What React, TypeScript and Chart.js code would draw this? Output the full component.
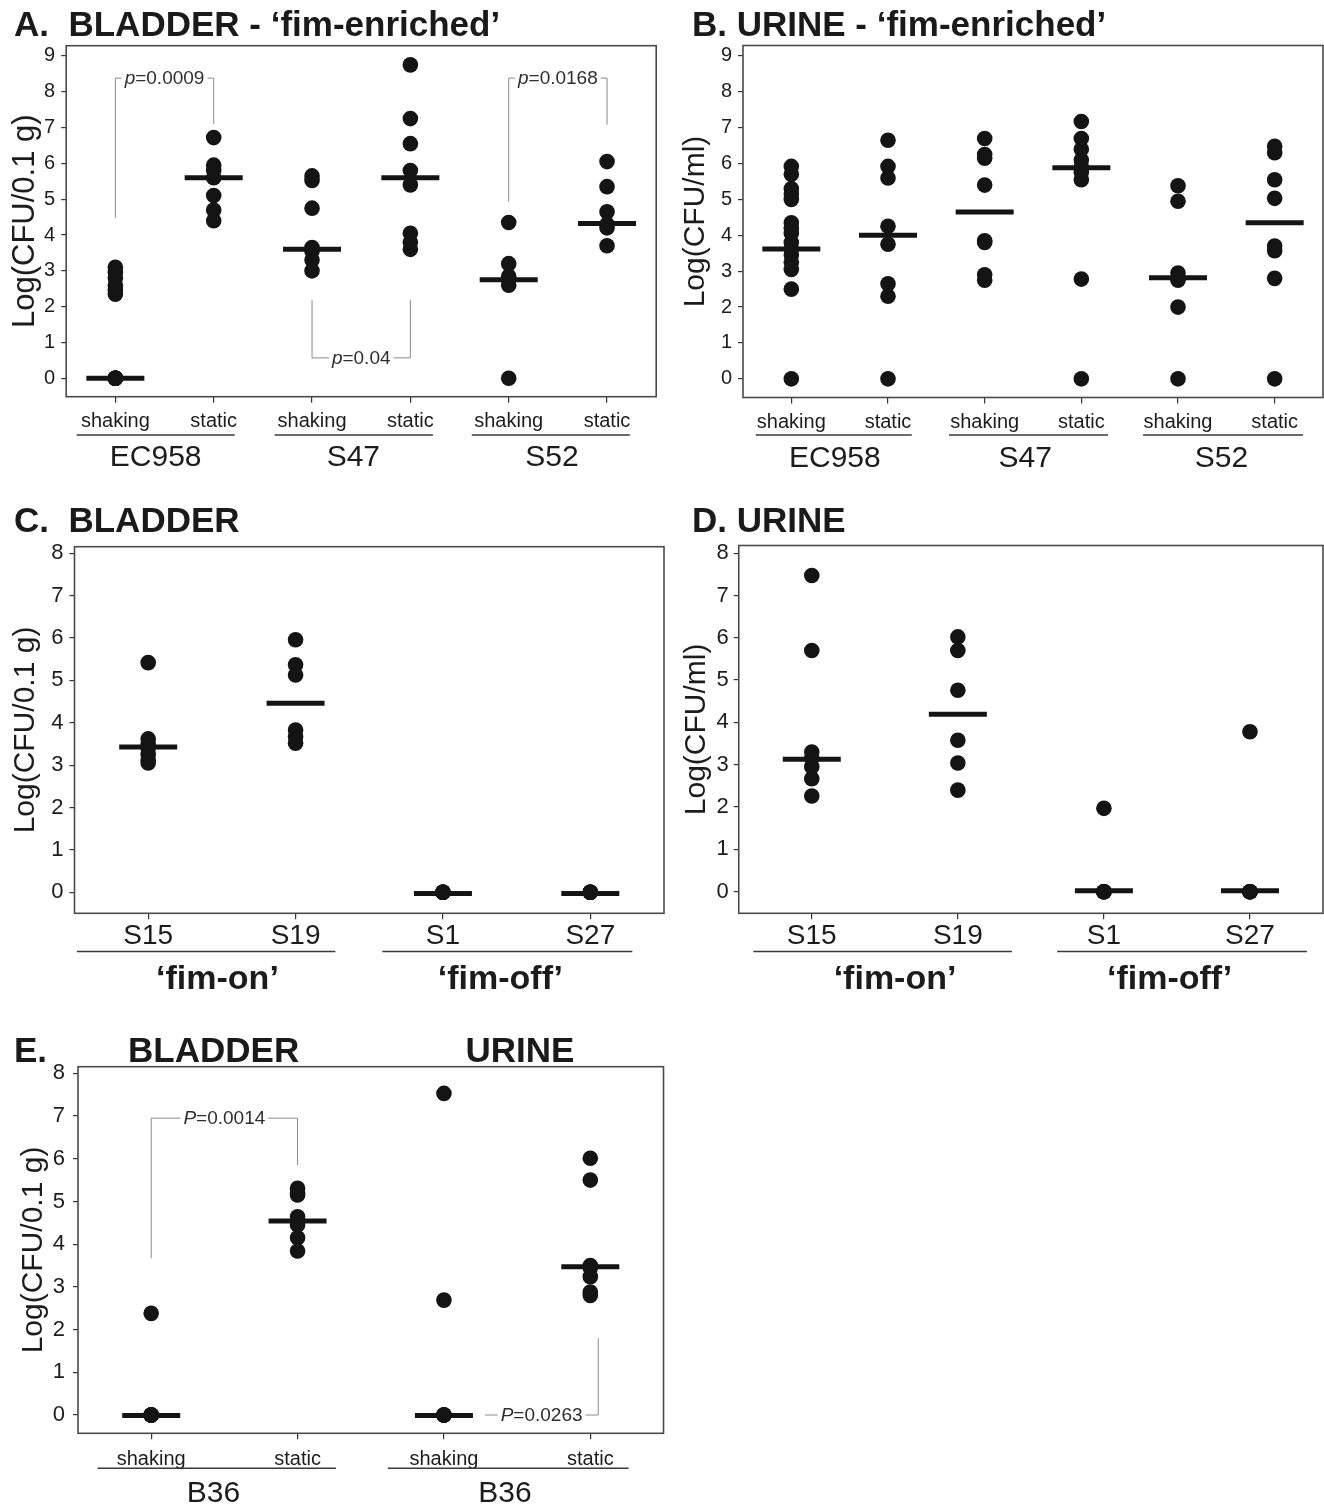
import React, { useEffect, useRef } from "react";
import { Chart, registerables } from "chart.js";

Chart.register(...registerables);

const FONT = "'Liberation Sans', Arial, Helvetica, sans-serif";
const INK = "#141414";
const TEXT = "#1c1c1c";
Chart.defaults.font.family = FONT;
Chart.defaults.color = TEXT;

// ---------------- Panel A : BLADDER - fim-enriched ----------------
const A_CATEGORIES = ["shaking", "static", "shaking", "static", "shaking", "static"];
const A_GROUPS = ["EC958", "S47", "S52"];
const A_Y_TICKS = [0, 1, 2, 3, 4, 5, 6, 7, 8, 9];
const A_EC958_SHAKING = [0, 0, 0, 0, 0, 0, 0, 3.1, 2.95, 2.8, 2.6, 2.45, 2.35];
const A_EC958_STATIC = [6.72, 5.95, 5.8, 5.6, 5.1, 4.7, 4.4];
const A_S47_SHAKING = [5.65, 5.52, 4.75, 3.65, 3.55, 3.3, 3.0];
const A_S47_STATIC = [8.75, 7.25, 6.55, 5.8, 5.4, 4.05, 3.8, 3.6];
const A_S52_SHAKING = [4.35, 3.2, 2.85, 2.75, 2.6, 0];
const A_S52_STATIC = [6.05, 5.35, 4.65, 4.3, 4.2, 3.7];
const A_MEDIANS = [0, 5.6, 3.6, 5.6, 2.75, 4.32];
const A_P_VALUES = ["0.0009", "0.04", "0.0168"];
const A_P_PAIRS = [[0, 1], [2, 3], [4, 5]];
const A_P_LEVELS = [8.38, 0.57, 8.38];
const A_P_ENDS = [[4.48, 7.1], [2.19, 2.19], [4.93, 7.08]];

// ---------------- Panel B : URINE - fim-enriched ----------------
const B_CATEGORIES = ["shaking", "static", "shaking", "static", "shaking", "static"];
const B_GROUPS = ["EC958", "S47", "S52"];
const B_Y_TICKS = [0, 1, 2, 3, 4, 5, 6, 7, 8, 9];
const B_EC958_SHAKING = [5.92, 5.7, 5.3, 5.15, 5.0, 4.35, 4.2, 4.05, 3.8, 3.62, 3.45, 3.25, 3.05, 2.5, 0];
const B_EC958_STATIC = [6.65, 5.92, 5.6, 4.25, 3.75, 2.65, 2.3, 0];
const B_S47_SHAKING = [6.7, 6.25, 6.15, 5.4, 3.85, 3.8, 2.9, 2.75];
const B_S47_STATIC = [7.17, 6.7, 6.4, 6.1, 5.9, 5.75, 5.55, 2.78, 0];
const B_S52_SHAKING = [5.38, 4.95, 2.95, 2.8, 2.75, 2.0, 0];
const B_S52_STATIC = [6.48, 6.3, 5.55, 5.03, 3.7, 3.57, 2.8, 0];
const B_MEDIANS = [3.62, 4.0, 4.65, 5.88, 2.82, 4.35];

// ---------------- Panel C : BLADDER ----------------
const C_CATEGORIES = ["S15", "S19", "S1", "S27"];
const C_GROUPS = ["\u2018fim-on\u2019", "\u2018fim-off\u2019"];
const C_Y_TICKS = [0, 1, 2, 3, 4, 5, 6, 7, 8];
const C_S15 = [5.42, 3.62, 3.5, 3.4, 3.25, 3.12, 3.05];
const C_S19 = [5.96, 5.37, 5.13, 3.83, 3.67, 3.52];
const C_S1 = [0, 0, 0, 0, 0];
const C_S27 = [0, 0, 0, 0, 0];
const C_MEDIANS = [3.43, 4.46, -0.03, -0.03];

// ---------------- Panel D : URINE ----------------
const D_CATEGORIES = ["S15", "S19", "S1", "S27"];
const D_GROUPS = ["\u2018fim-on\u2019", "\u2018fim-off\u2019"];
const D_Y_TICKS = [0, 1, 2, 3, 4, 5, 6, 7, 8];
const D_S15 = [7.47, 5.7, 3.3, 3.15, 2.95, 2.67, 2.26];
const D_S19 = [6.02, 5.7, 4.76, 3.58, 3.04, 2.4];
const D_S1 = [1.97, 0, 0, 0, 0];
const D_S27 = [3.78, 0, 0, 0, 0];
const D_MEDIANS = [3.13, 4.19, 0.02, 0.02];

// ---------------- Panel E : B36 bladder / urine ----------------
const E_CATEGORIES = ["shaking", "static", "shaking", "static"];
const E_GROUPS = ["B36", "B36"];
const E_Y_TICKS = [0, 1, 2, 3, 4, 5, 6, 7, 8];
const E_BLADDER_SHAKING = [2.38, 0, 0, 0, 0, 0];
const E_BLADDER_STATIC = [5.31, 5.2, 5.15, 4.64, 4.45, 4.15, 3.84];
const E_URINE_SHAKING = [7.53, 2.69, 0, 0, 0, 0];
const E_URINE_STATIC = [6.01, 5.5, 3.5, 3.45, 3.24, 2.88, 2.8];
const E_MEDIANS = [-0.01, 4.54, -0.01, 3.47];
const E_P_VALUES = ["0.0014", "0.0263"];
const E_P_PAIRS = [[0, 1], [2.28, 3.054]];
const E_P_LEVELS = [6.95, 0];
const E_P_ENDS = [[3.67, 5.85], [null, 1.8]];

type Bracket = { from: number; to: number; level: number; fromEnd: number | null; toEnd: number | null; prefix: string; value: string };

function brackets(prefix: string, values: string[], pairs: number[][], levels: number[], ends: (number | null)[][]): Bracket[] {
  return values.map((v, i) => ({
    from: pairs[i][0], to: pairs[i][1], level: levels[i],
    fromEnd: ends[i][0], toEnd: ends[i][1], prefix, value: v,
  }));
}

type PanelCfg = {
  left: number; top: number; width: number; height: number;
  box: { left: number; top: number; right: number; bottom: number };
  yMin: number; yMax: number; yTicks: number[];
  categories: string[]; series: number[][]; medians: number[];
  yTitle: string; yTitleSize: number; yTitlePad: number;
  yTickSize: number; yTickPad: number;
  xTickSize: number; xTickPad: number;
  groups: string[]; groupSpans: number[][]; groupAt: number[];
  groupFont: string; underlineOffset: number; groupBaseline: number;
  brackets: Bracket[];
  titles: { text: string; x: number; y: number; align: CanvasTextAlign }[];
};

const TITLE_FONT = `bold 35px ${FONT}`;

const PANELS: PanelCfg[] = [
  {
    left: 0, top: 0, width: 662, height: 480,
    box: { left: 66.2, top: 45.7, right: 656.2, bottom: 396.7 },
    yMin: -0.514, yMax: 9.285, yTicks: A_Y_TICKS,
    categories: A_CATEGORIES,
    series: [A_EC958_SHAKING, A_EC958_STATIC, A_S47_SHAKING, A_S47_STATIC, A_S52_SHAKING, A_S52_STATIC],
    medians: A_MEDIANS,
    yTitle: "Log(CFU/0.1 g)", yTitleSize: 31, yTitlePad: 7,
    yTickSize: 20, yTickPad: 6, xTickSize: 20, xTickPad: 7,
    groups: A_GROUPS, groupSpans: [[-0.394, 1.214], [1.62, 3.23], [3.624, 5.232]], groupAt: [0.41, 2.42, 4.44],
    groupFont: `30px ${FONT}`, underlineOffset: 38.3, groupBaseline: 69.5,
    brackets: brackets("p", A_P_VALUES, A_P_PAIRS, A_P_LEVELS, A_P_ENDS),
    titles: [{ text: "A.  BLADDER - \u2018fim-enriched\u2019", x: 14, y: 36, align: "left" }],
  },
  {
    left: 662, top: 0, width: 662, height: 480,
    box: { left: 81, top: 45.5, right: 661, bottom: 397.5 },
    yMin: -0.52, yMax: 9.29, yTicks: B_Y_TICKS,
    categories: B_CATEGORIES,
    series: [B_EC958_SHAKING, B_EC958_STATIC, B_S47_SHAKING, B_S47_STATIC, B_S52_SHAKING, B_S52_STATIC],
    medians: B_MEDIANS,
    yTitle: "Log(CFU/ml)", yTitleSize: 30, yTitlePad: 15.5,
    yTickSize: 20, yTickPad: 6, xTickSize: 20, xTickPad: 7,
    groups: B_GROUPS, groupSpans: [[-0.368, 1.246], [1.631, 3.276], [3.638, 5.293]], groupAt: [0.45, 2.42, 4.45],
    groupFont: `30px ${FONT}`, underlineOffset: 37.5, groupBaseline: 69,
    brackets: [],
    titles: [{ text: "B. URINE - \u2018fim-enriched\u2019", x: 30, y: 36, align: "left" }],
  },
  {
    left: 0, top: 495, width: 670, height: 510,
    box: { left: 74.5, top: 51.7, right: 664, bottom: 418.3 },
    yMin: -0.496, yMax: 8.156, yTicks: C_Y_TICKS,
    categories: C_CATEGORIES,
    series: [C_S15, C_S19, C_S1, C_S27],
    medians: C_MEDIANS,
    yTitle: "Log(CFU/0.1 g)", yTitleSize: 30, yTitlePad: 7.6,
    yTickSize: 22, yTickPad: 6, xTickSize: 28, xTickPad: 0,
    groups: C_GROUPS, groupSpans: [[-0.484, 1.27], [1.589, 3.285]], groupAt: [0.47, 2.39],
    groupFont: `bold 34px ${FONT}`, underlineOffset: 38.3, groupBaseline: 76,
    brackets: [],
    titles: [{ text: "C.  BLADDER", x: 14, y: 37.3, align: "left" }],
  },
  {
    left: 670, top: 495, width: 654, height: 510,
    box: { left: 68.75, top: 50.5, right: 653, bottom: 418.3 },
    yMin: -0.51, yMax: 8.18, yTicks: D_Y_TICKS,
    categories: D_CATEGORIES,
    series: [D_S15, D_S19, D_S1, D_S27],
    medians: D_MEDIANS,
    yTitle: "Log(CFU/ml)", yTitleSize: 30, yTitlePad: 9,
    yTickSize: 22, yTickPad: 5, xTickSize: 28, xTickPad: 0,
    groups: D_GROUPS, groupSpans: [[-0.4, 1.37], [1.68, 3.39]], groupAt: [0.57, 2.45],
    groupFont: `bold 34px ${FONT}`, underlineOffset: 38.3, groupBaseline: 76,
    brackets: [],
    titles: [{ text: "D. URINE", x: 22, y: 37.3, align: "left" }],
  },
  {
    left: 0, top: 1025, width: 680, height: 480,
    box: { left: 78, top: 41.7, right: 663.5, bottom: 408.3 },
    yMin: -0.428, yMax: 8.155, yTicks: E_Y_TICKS,
    categories: E_CATEGORIES,
    series: [E_BLADDER_SHAKING, E_BLADDER_STATIC, E_URINE_SHAKING, E_URINE_STATIC],
    medians: E_MEDIANS,
    yTitle: "Log(CFU/0.1 g)", yTitleSize: 30, yTitlePad: 15.6,
    yTickSize: 22, yTickPad: 8, xTickSize: 20, xTickPad: 8,
    groups: E_GROUPS, groupSpans: [[-0.366, 1.262], [1.617, 3.262]], groupAt: [0.426, 2.417],
    groupFont: `30px ${FONT}`, underlineOffset: 35, groupBaseline: 68.4,
    brackets: brackets("P", E_P_VALUES, E_P_PAIRS, E_P_LEVELS, E_P_ENDS),
    titles: [
      { text: "E.", x: 14, y: 36.7, align: "left" },
      { text: "BLADDER", x: 213.6, y: 36.7, align: "center" },
      { text: "URINE", x: 520, y: 36.7, align: "center" },
    ],
  },
];

function makeDecor(cfg: PanelCfg) {
  return {
    id: "panelDecor",
    afterDatasetsDraw(chart: any) {
      const { ctx, chartArea: ca, scales } = chart;
      const xs = scales.x;
      const ys = scales.y;
      ctx.save();
      const fs = 19;
      for (const b of cfg.brackets) {
        const x1 = xs.getPixelForValue(b.from);
        const x2 = xs.getPixelForValue(b.to);
        const yl = ys.getPixelForValue(b.level);
        ctx.font = `italic ${fs}px ${FONT}`;
        const w1 = ctx.measureText(b.prefix).width;
        ctx.font = `${fs}px ${FONT}`;
        const w2 = ctx.measureText("=" + b.value).width;
        const cx = (x1 + x2) / 2;
        const tx0 = cx - (w1 + w2) / 2;
        const tx1 = cx + (w1 + w2) / 2;
        ctx.strokeStyle = "#8a8a8a";
        ctx.lineWidth = 1;
        ctx.beginPath();
        if (b.fromEnd !== null) {
          ctx.moveTo(x1, ys.getPixelForValue(b.fromEnd));
          ctx.lineTo(x1, yl);
        } else {
          ctx.moveTo(x1, yl);
        }
        ctx.lineTo(tx0 - 3, yl);
        ctx.moveTo(tx1 + 3, yl);
        ctx.lineTo(x2, yl);
        if (b.toEnd !== null) ctx.lineTo(x2, ys.getPixelForValue(b.toEnd));
        ctx.stroke();
        ctx.fillStyle = "#2e2e2e";
        ctx.textAlign = "left";
        ctx.textBaseline = "middle";
        ctx.font = `italic ${fs}px ${FONT}`;
        ctx.fillText(b.prefix, tx0, yl + 1);
        ctx.font = `${fs}px ${FONT}`;
        ctx.fillText("=" + b.value, tx0 + w1, yl + 1);
      }
      ctx.strokeStyle = "#4a4a4a";
      ctx.lineWidth = 1.6;
      ctx.strokeRect(ca.left, ca.top, ca.right - ca.left, ca.bottom - ca.top);
      ctx.restore();
    },
    afterDraw(chart: any) {
      const { ctx, chartArea: ca, scales } = chart;
      const xs = scales.x;
      ctx.save();
      cfg.groups.forEach((g, gi) => {
        const [a, b] = cfg.groupSpans[gi];
        const y = ca.bottom + cfg.underlineOffset;
        ctx.strokeStyle = "#3a3a3a";
        ctx.lineWidth = 1.5;
        ctx.beginPath();
        ctx.moveTo(xs.getPixelForValue(a), y);
        ctx.lineTo(xs.getPixelForValue(b), y);
        ctx.stroke();
        ctx.font = cfg.groupFont;
        ctx.fillStyle = TEXT;
        ctx.textAlign = "center";
        ctx.textBaseline = "alphabetic";
        ctx.fillText(g, xs.getPixelForValue(cfg.groupAt[gi]), ca.bottom + cfg.groupBaseline);
      });
      ctx.font = TITLE_FONT;
      ctx.fillStyle = "#1a1a1a";
      ctx.textBaseline = "alphabetic";
      for (const t of cfg.titles) {
        ctx.textAlign = t.align;
        ctx.fillText(t.text, t.x, t.y);
      }
      ctx.restore();
    },
  };
}

function buildConfig(cfg: PanelCfg): any {
  const pointSets = cfg.series.map((vals, i) => ({
    type: "scatter",
    data: vals.map((v) => ({ x: i, y: v })),
    pointRadius: 7.8,
    pointHoverRadius: 7.8,
    pointBackgroundColor: INK,
    pointBorderWidth: 0,
    showLine: false,
  }));
  const medianSet = {
    type: "scatter",
    data: cfg.medians.map((m, i) => ({ x: i, y: m })),
    pointStyle: "line",
    pointRadius: 29,
    pointHoverRadius: 29,
    pointBorderColor: INK,
    pointBorderWidth: 5,
    pointHoverBorderWidth: 5,
    showLine: false,
  };
  const grid = { drawOnChartArea: false, drawTicks: true, color: "#333", lineWidth: 1.2 };
  return {
    type: "scatter",
    data: { datasets: [medianSet, ...pointSets] },
    plugins: [makeDecor(cfg)],
    options: {
      animation: false,
      responsive: false,
      maintainAspectRatio: false,
      events: [],
      layout: {
        autoPadding: false,
        padding: { left: 0, top: cfg.box.top, right: cfg.width - cfg.box.right, bottom: 0 },
      },
      plugins: { legend: { display: false }, tooltip: { enabled: false }, title: { display: false } },
      scales: {
        x: {
          type: "linear",
          position: "bottom",
          bounds: "data",
          min: -0.5,
          max: cfg.categories.length - 0.5,
          afterBuildTicks: (s: any) => {
            s.ticks = cfg.categories.map((_, i) => ({ value: i }));
          },
          afterFit: (s: any) => {
            s.height = cfg.height - cfg.box.bottom;
            s.paddingLeft = 0;
            s.paddingRight = 0;
            s.paddingTop = 0;
            s.paddingBottom = 0;
          },
          ticks: {
            autoSkip: false,
            maxRotation: 0,
            minRotation: 0,
            padding: cfg.xTickPad,
            color: TEXT,
            font: { family: FONT, size: cfg.xTickSize },
            callback: (v: number) => cfg.categories[Math.round(v)] ?? "",
          },
          grid: { ...grid, tickLength: 6 },
          border: { display: false },
        },
        y: {
          type: "linear",
          position: "left",
          bounds: "data",
          min: cfg.yMin,
          max: cfg.yMax,
          afterBuildTicks: (s: any) => {
            s.ticks = cfg.yTicks.map((v) => ({ value: v }));
          },
          afterFit: (s: any) => {
            s.width = cfg.box.left;
            s.paddingLeft = 0;
            s.paddingRight = 0;
            s.paddingTop = 0;
            s.paddingBottom = 0;
          },
          ticks: {
            padding: cfg.yTickPad,
            color: TEXT,
            font: { family: FONT, size: cfg.yTickSize },
            callback: (v: number) => String(v),
          },
          grid: { ...grid, tickLength: 5 },
          border: { display: false },
          title: {
            display: true,
            text: cfg.yTitle,
            color: TEXT,
            font: { family: FONT, size: cfg.yTitleSize },
            padding: { top: cfg.yTitlePad, bottom: 0 },
          },
        },
      },
    },
  };
}

function Panel({ cfg }: { cfg: PanelCfg }) {
  const ref = useRef<HTMLCanvasElement | null>(null);
  useEffect(() => {
    if (!ref.current) return;
    const chart = new Chart(ref.current, buildConfig(cfg));
    return () => chart.destroy();
  }, [cfg]);
  return (
    <div style={{ position: "absolute", left: cfg.left, top: cfg.top, width: cfg.width, height: cfg.height }}>
      <canvas ref={ref} width={cfg.width} height={cfg.height} style={{ width: cfg.width, height: cfg.height, display: "block" }} />
    </div>
  );
}

export default function App() {
  return (
    <div style={{ position: "absolute", left: 0, top: 0, width: 1324, height: 1505, background: "#fff", overflow: "hidden" }}>
      {PANELS.map((p, i) => (
        <Panel key={i} cfg={p} />
      ))}
    </div>
  );
}
